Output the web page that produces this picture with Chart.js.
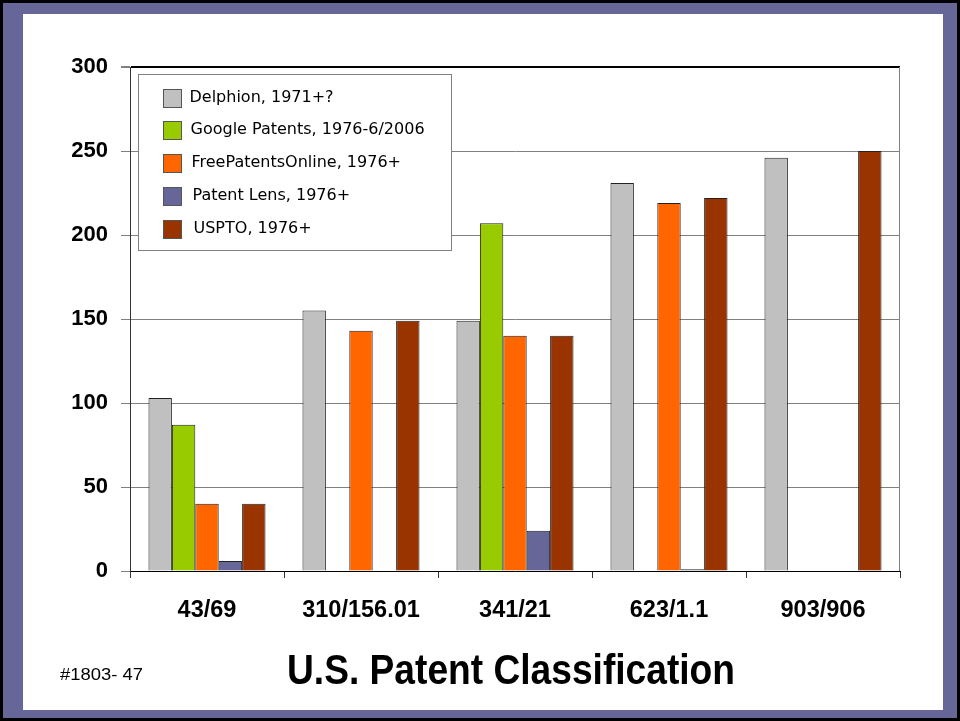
<!DOCTYPE html>
<html>
<head>
<meta charset="utf-8">
<script src="https://cdn.jsdelivr.net/npm/chart.js@4/dist/chart.umd.min.js"></script>
<style>
  html, body { margin: 0; padding: 0; background: #000; }
  #page { position: relative; width: 960px; height: 721px; background: #000; overflow: hidden; }
  #purple { position: absolute; left: 3px; top: 3px; width: 954px; height: 715px; background: #666699; }
  #white { position: absolute; left: 23px; top: 14px; width: 920px; height: 696px; background: #fff; }
  #myChart { position: absolute; left: 0; top: 0; }
  .txt { position: absolute; font-family: "Liberation Sans", Arial, sans-serif; color: #000; white-space: nowrap; transform-origin: 0 0; }
  #title { font-weight: bold; font-size: 42px; left: 287px; top: 646px; }
  #slideNo { font-size: 17px; left: 60px; top: 665px; }
</style>
</head>
<body>
<div id="page">
  <div id="purple"></div>
  <div id="white"></div>
  <canvas id="myChart" width="960" height="721"></canvas>
  <div id="title" class="txt">U.S. Patent Classification</div>
  <div id="slideNo" class="txt">#1803- 47</div>
</div>
<script>
// categories (US patent classes)
const categories = ['43/69', '310/156.01', '341/21', '623/1.1', '903/906'];

// hit counts per database
const delphion = [103, 155, 149, 231, 246];
const googlePatents = [87, null, 207, null, null];
const freePatentsOnline = [40, 143, 140, 219, null];
const patentLens = [6, null, 24, 1, null];
const uspto = [40, 149, 140, 222, 250];

const seriesLabels = ['Delphion, 1971+?', 'Google Patents, 1976-6/2006', 'FreePatentsOnline, 1976+', 'Patent Lens, 1976+', 'USPTO, 1976+'];
const seriesColors = ['#C0C0C0', '#99CC00', '#FF6600', '#666699', '#993300'];

const yTicks = [0, 50, 100, 150, 200, 250, 300];

// squeeze the narrow footer texts to their widths
function fitWidth(id, w) {
    var el = document.getElementById(id);
    var s = w / el.getBoundingClientRect().width;
    el.style.transform = 'scaleX(' + s + ')';
}
fitWidth('title', 448);
fitWidth('slideNo', 83);

// legend box drawn inside the plot area
const boxLegend = {
    id: 'boxLegend',
    afterDraw(chart) {
        var ctx = chart.ctx;
        var a = chart.chartArea;
        var x = a.left + 8.5, y = a.top + 7.5;
        ctx.save();
        ctx.fillStyle = '#fff';
        ctx.strokeStyle = '#808080';
        ctx.lineWidth = 1;
        ctx.fillRect(x, y, 313, 176);
        ctx.strokeRect(x, y, 313, 176);
        ctx.font = '16px "DejaVu Sans", Verdana, sans-serif';
        ctx.textBaseline = 'middle';
        chart.data.datasets.forEach(function (ds, i) {
            var cy = y + 23 + i * 32.8;
            ctx.fillStyle = ds.backgroundColor;
            ctx.fillRect(x + 25, Math.round(cy - 9) + 0.5, 18, 18);
            ctx.strokeStyle = '#555';
            ctx.strokeRect(x + 25, Math.round(cy - 9) + 0.5, 18, 18);
            ctx.fillStyle = '#000';
            ctx.fillText(ds.label, x + 51 + i, cy);
        });
        ctx.restore();
    }
};

// gray right edge of the plot area
const rightEdge = {
    id: 'rightEdge',
    afterDatasetsDraw(chart) {
        var ctx = chart.ctx;
        var a = chart.chartArea;
        ctx.save();
        ctx.strokeStyle = '#808080';
        ctx.lineWidth = 1;
        ctx.beginPath();
        ctx.moveTo(Math.round(a.right) - 0.5, a.top);
        ctx.lineTo(Math.round(a.right) - 0.5, a.bottom);
        ctx.stroke();
        ctx.restore();
    }
};

const datasetValues = [delphion, googlePatents, freePatentsOnline, patentLens, uspto];

var ctx = document.getElementById('myChart');
var chart = new Chart(ctx, {
    type: 'bar',
    data: {
        labels: categories,
        datasets: datasetValues.map(function (vals, i) {
            return {
                label: seriesLabels[i],
                data: vals,
                backgroundColor: seriesColors[i],
                borderColor: '#222',
                borderWidth: 1,
                categoryPercentage: 0.76,
                barPercentage: 1.0
            };
        })
    },
    options: {
        responsive: false,
        animation: false,
        devicePixelRatio: 1,
        layout: { padding: { left: 0, top: 67, right: 60, bottom: 90 } },
        plugins: {
            legend: { display: false },
            tooltip: { enabled: false }
        },
        scales: {
            x: {
                afterFit: function (s) { s.height = 60; },
                grid: { drawOnChartArea: false, drawTicks: true, tickLength: 7, color: '#333', offset: true },
                border: { color: '#000', width: 1 },
                ticks: {
                    color: '#000',
                    padding: 18,
                    font: { family: '"Liberation Sans", Arial, sans-serif', size: 23.5, weight: 'bold' }
                }
            },
            y: {
                min: 0,
                max: 300,
                afterFit: function (s) { s.width = 130; },
                afterBuildTicks: function (s) { s.ticks = yTicks.map(function (v) { return { value: v }; }); },
                grid: {
                    color: function (c) { return c.tick && c.tick.value === 300 ? '#000' : '#808080'; },
                    lineWidth: function (c) { return c.tick && c.tick.value === 300 ? 2 : 1; },
                    tickLength: 9,
                    tickColor: '#808080'
                },
                border: { color: '#333', width: 1 },
                ticks: {
                    color: '#000',
                    padding: 13,
                    font: { family: '"Liberation Sans", Arial, sans-serif', size: 22, weight: 'bold' }
                }
            }
        }
    },
    plugins: [rightEdge, boxLegend]
});
</script>
</body>
</html>
